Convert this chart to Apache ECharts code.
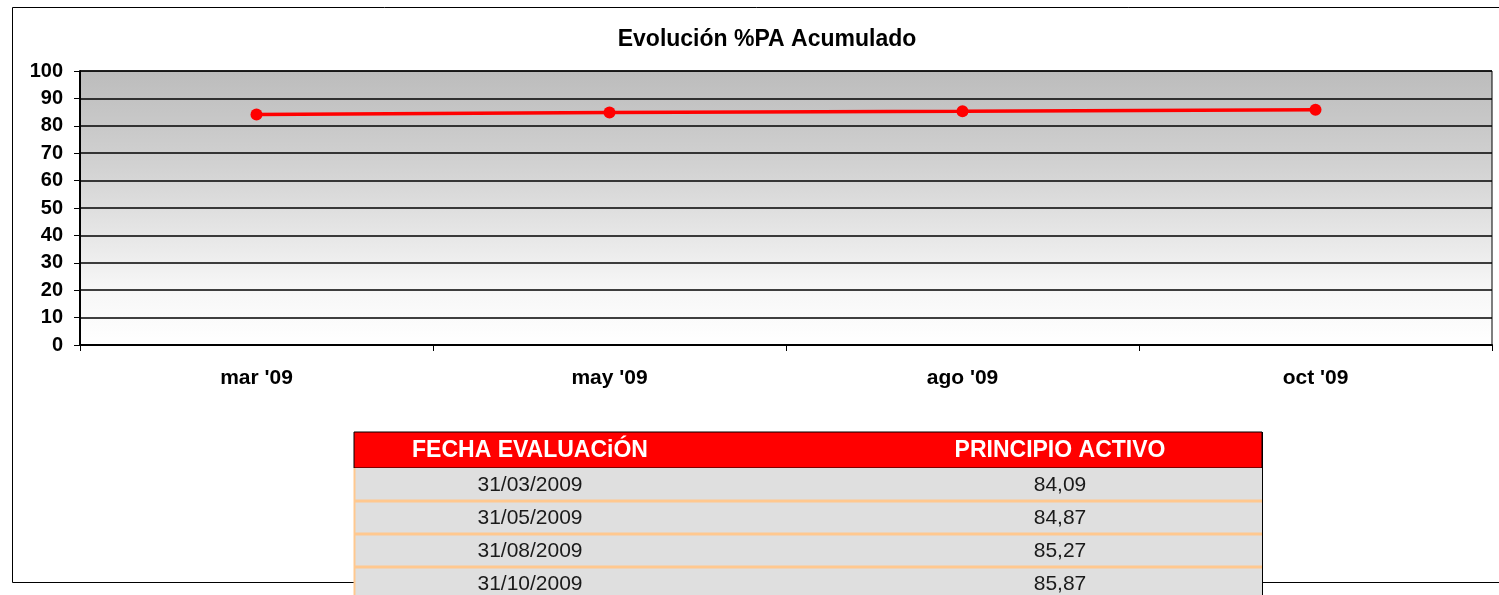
<!DOCTYPE html>
<html><head><meta charset="utf-8">
<script src="https://cdn.jsdelivr.net/npm/echarts@6/dist/echarts.min.js"></script>
<style>html,body{margin:0;padding:0;background:#fff}#c{width:1499px;height:595px}</style>
</head><body><div id="c"></div>
<script>
const categories = ["mar '09", "may '09", "ago '09", "oct '09"];
const values = [84.09, 84.87, 85.27, 85.87];
const dates = ["31/03/2009", "31/05/2009", "31/08/2009", "31/10/2009"];
const valueLabels = ["84,09", "84,87", "85,27", "85,87"];
const tableHeaders = ["FECHA EVALUACiÓN", "PRINCIPIO ACTIVO"];
const titleText = "Evolución %PA Acumulado";

const FONT = '"Liberation Sans", Arial, Helvetica, sans-serif';
const chart = echarts.init(document.getElementById('c'), null, {renderer: 'canvas'});

// table layout
const tX = 354, tW = 908, headY = 432, headH = 36, rowH = 33;
const col1C = 530, col2C = 1060;
const g = [];
g.push({type:'rect', shape:{x:12.5, y:7.5, width:1520, height:575}, style:{fill:null, stroke:'#000', lineWidth:1}, z:0});
g.push({type:'rect', shape:{x:tX, y:headY, width:tW, height:headH}, style:{fill:'#ff0000', stroke:'#000', lineWidth:1}, z:10});
g.push({type:'text', x:col1C, y:headY+headH/2+1, style:{text:tableHeaders[0], fill:'#fff', font:'bold 23px '+FONT, textAlign:'center', textVerticalAlign:'middle'}, z:12});
g.push({type:'text', x:col2C, y:headY+headH/2+1, style:{text:tableHeaders[1], fill:'#fff', font:'bold 23px '+FONT, textAlign:'center', textVerticalAlign:'middle'}, z:12});
dates.forEach((d, i) => {
  const y = headY + headH + i*rowH;
  g.push({type:'rect', shape:{x:tX, y:y, width:tW, height:rowH}, style:{fill:'#dfdfdf', stroke:null}, z:10});
  if (i > 0) g.push({type:'rect', shape:{x:tX, y:y-1.5, width:tW+1, height:3}, style:{fill:'#ffc88f'}, z:11});
  g.push({type:'text', x:col1C, y:y+rowH/2+1, style:{text:d, fill:'#1a1a1a', font:'21px '+FONT, textAlign:'center', textVerticalAlign:'middle'}, z:12});
  g.push({type:'text', x:col2C, y:y+rowH/2+1, style:{text:valueLabels[i], fill:'#1a1a1a', font:'21px '+FONT, textAlign:'center', textVerticalAlign:'middle'}, z:12});
});
g.push({type:'line', shape:{x1:tX+0.5, y1:headY+headH, x2:tX+0.5, y2:600}, style:{stroke:'#ffc88f', lineWidth:2}, z:11});
g.push({type:'line', shape:{x1:tX+tW+0.5, y1:headY, x2:tX+tW+0.5, y2:600}, style:{stroke:'#000', lineWidth:1}, z:11});

chart.setOption({
  animation: false,
  backgroundColor: '#fff',
  title: {text: titleText, left: 762, top: 23, textAlign: 'center',
    textStyle: {fontFamily: FONT, fontWeight: 'bold', fontSize: 23, color: '#000'}},
  grid: {left: 80, top: 71, width: 1412, height: 274, show: true,
    borderColor: '#000', borderWidth: 1,
    backgroundColor: {type:'linear', x:0, y:0, x2:0, y2:1,
      colorStops:[{offset:0, color:'#bcbcbc'},{offset:0.35, color:'#d2d2d2'},{offset:0.8, color:'#f7f7f7'},{offset:1, color:'#ffffff'}]}},
  xAxis: {type: 'category', data: categories, boundaryGap: true,
    axisLine: {lineStyle: {color: '#000', width: 2}},
    axisTick: {show: true, length: 6, lineStyle: {color: '#000', width: 1}},
    axisLabel: {margin: 23, fontFamily: FONT, fontWeight: 'bold', fontSize: 21, color: '#000'}},
  yAxis: {type: 'value', min: 0, max: 100, interval: 10,
    axisLine: {show: true, lineStyle: {color: '#000', width: 2}},
    axisTick: {show: true, length: 6, lineStyle: {color: '#000'}},
    splitLine: {lineStyle: {color: '#000', width: 1.5}},
    axisLabel: {margin: 17, fontFamily: FONT, fontWeight: 'bold', fontSize: 20, color: '#000'}},
  series: [{type: 'line', data: values, symbol: 'circle', symbolSize: 12,
    lineStyle: {color: '#ff0000', width: 3.5}, itemStyle: {color: '#ff0000'}, z: 5}],
  graphic: g
});
</script></body></html>
